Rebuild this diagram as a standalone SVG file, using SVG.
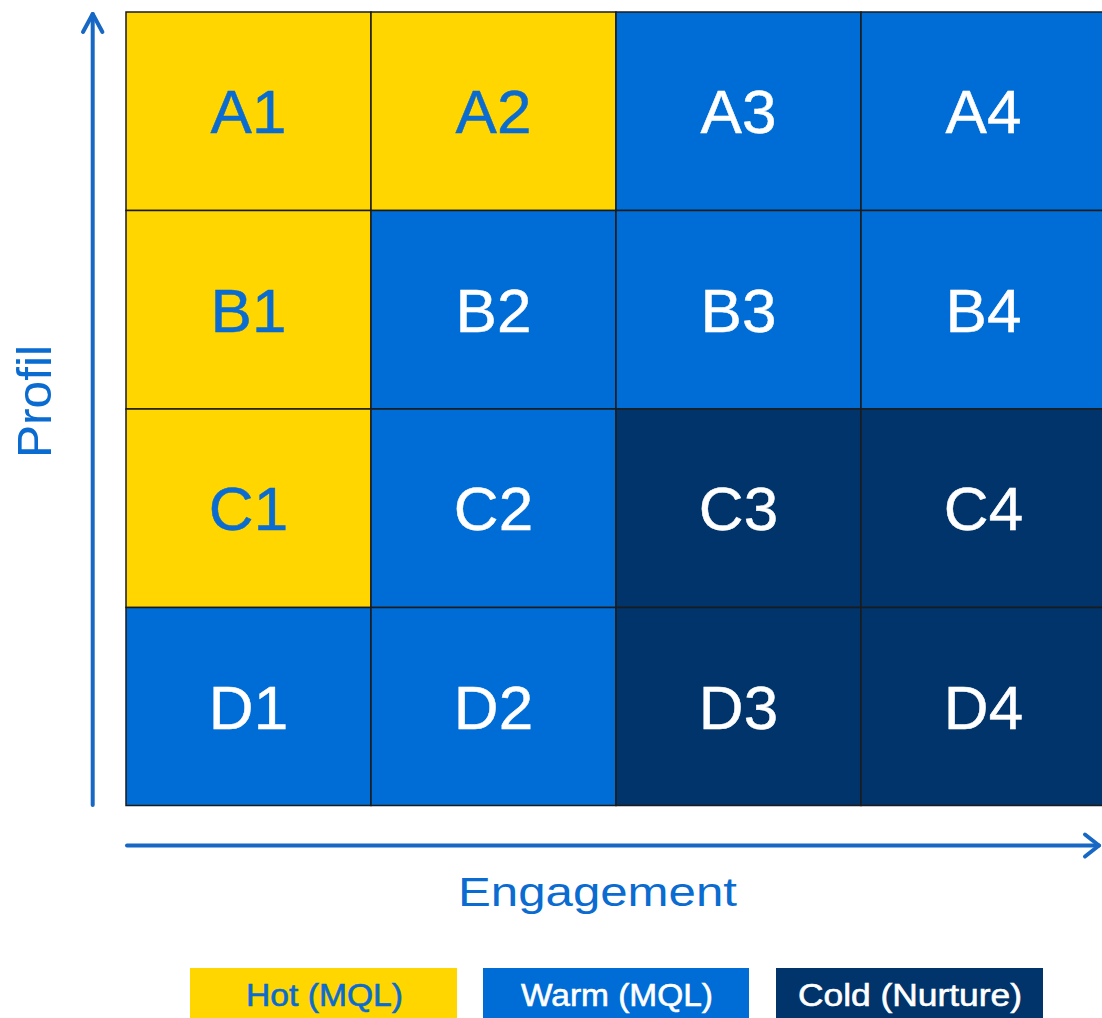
<svg xmlns="http://www.w3.org/2000/svg" width="1102" height="1018" viewBox="0 0 1102 1018">
  <style>
    .cell { stroke: #1b1b1b; stroke-width: 1.5; }
    .hot { fill: #FFD600; }
    .warm { fill: #006DD6; }
    .cold { fill: #00346B; }
    .lbl { font-family: "Liberation Sans", Arial, sans-serif; font-size: 62px; text-anchor: middle; stroke-width: 0.5; }
    .dark { fill: #0A6BD0; stroke: #0A6BD0; }
    .light { fill: #FFFFFF; stroke: #FFFFFF; }
    .axis { fill: none; stroke: #1767C4; stroke-width: 4; stroke-linecap: round; stroke-linejoin: round; }
    .axtxt { font-family: "Liberation Sans", Arial, sans-serif; fill: #0A6BD0; text-anchor: middle; }
    .leg { font-family: "Liberation Sans", Arial, sans-serif; font-size: 31px; text-anchor: middle; stroke-width: 0.6; }
  </style>
  <rect width="1102" height="1018" fill="#FFFFFF"/>

  <!-- Matrix cells: columns 1-4 (engagement), rows A-D (profile) -->
  <g id="A1"><rect class="cell hot" x="126" y="12" width="245" height="198.5"/><text class="lbl dark" x="248.5" y="133">A1</text></g>
  <g id="A2"><rect class="cell hot" x="371" y="12" width="245" height="198.5"/><text class="lbl dark" x="493.5" y="133">A2</text></g>
  <g id="A3"><rect class="cell warm" x="616" y="12" width="245" height="198.5"/><text class="lbl light" x="738.5" y="133">A3</text></g>
  <g id="A4"><rect class="cell warm" x="861" y="12" width="245" height="198.5"/><text class="lbl light" x="983.5" y="133">A4</text></g>

  <g id="B1"><rect class="cell hot" x="126" y="210.5" width="245" height="198.5"/><text class="lbl dark" x="248.5" y="332">B1</text></g>
  <g id="B2"><rect class="cell warm" x="371" y="210.5" width="245" height="198.5"/><text class="lbl light" x="493.5" y="332">B2</text></g>
  <g id="B3"><rect class="cell warm" x="616" y="210.5" width="245" height="198.5"/><text class="lbl light" x="738.5" y="332">B3</text></g>
  <g id="B4"><rect class="cell warm" x="861" y="210.5" width="245" height="198.5"/><text class="lbl light" x="983.5" y="332">B4</text></g>

  <g id="C1"><rect class="cell hot" x="126" y="409" width="245" height="198.5"/><text class="lbl dark" x="248.5" y="530">C1</text></g>
  <g id="C2"><rect class="cell warm" x="371" y="409" width="245" height="198.5"/><text class="lbl light" x="493.5" y="530">C2</text></g>
  <g id="C3"><rect class="cell cold" x="616" y="409" width="245" height="198.5"/><text class="lbl light" x="738.5" y="530">C3</text></g>
  <g id="C4"><rect class="cell cold" x="861" y="409" width="245" height="198.5"/><text class="lbl light" x="983.5" y="530">C4</text></g>

  <g id="D1"><rect class="cell warm" x="126" y="607.5" width="245" height="198"/><text class="lbl light" x="248.5" y="729">D1</text></g>
  <g id="D2"><rect class="cell warm" x="371" y="607.5" width="245" height="198"/><text class="lbl light" x="493.5" y="729">D2</text></g>
  <g id="D3"><rect class="cell cold" x="616" y="607.5" width="245" height="198"/><text class="lbl light" x="738.5" y="729">D3</text></g>
  <g id="D4"><rect class="cell cold" x="861" y="607.5" width="245" height="198"/><text class="lbl light" x="983.5" y="729">D4</text></g>

  <!-- Axes -->
  <g id="connectors">
    <line class="axis" x1="92.7" y1="805" x2="92.7" y2="14"/>
    <polyline class="axis" points="83,32 92.7,14 102.4,32"/>
    <line class="axis" x1="127" y1="845.5" x2="1099" y2="845.5"/>
    <polyline class="axis" points="1085,834.5 1099,845.5 1085,856.5"/>
  </g>

  <g id="axis-labels">
    <text class="axtxt" font-size="49" transform="translate(51,401.5) rotate(-90)" textLength="113" lengthAdjust="spacingAndGlyphs">Profil</text>
    <text class="axtxt" font-size="40" x="597.5" y="906" textLength="279" lengthAdjust="spacingAndGlyphs">Engagement</text>
  </g>

  <!-- Legend -->
  <g id="legend-hot"><rect class="hot" x="190" y="968" width="267" height="50"/><text class="leg dark" x="324.5" y="1006" textLength="157" lengthAdjust="spacingAndGlyphs">Hot (MQL)</text></g>
  <g id="legend-warm"><rect class="warm" x="483" y="968" width="266" height="50"/><text class="leg light" x="617" y="1006" textLength="192" lengthAdjust="spacingAndGlyphs">Warm (MQL)</text></g>
  <g id="legend-cold"><rect class="cold" x="776" y="968" width="267" height="50"/><text class="leg light" x="910" y="1006" textLength="224" lengthAdjust="spacingAndGlyphs">Cold (Nurture)</text></g>
</svg>
